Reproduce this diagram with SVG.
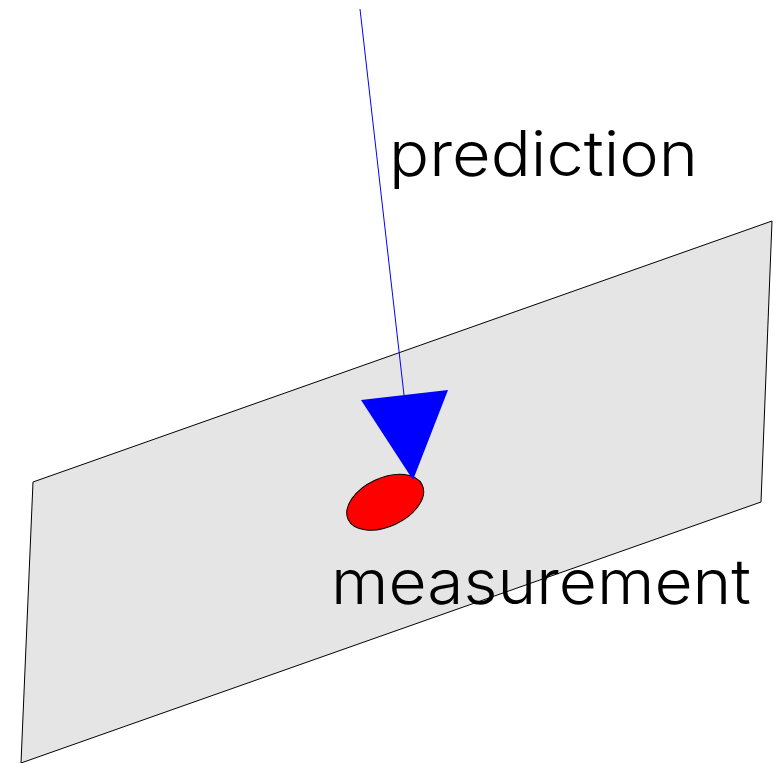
<svg xmlns="http://www.w3.org/2000/svg" width="779" height="763" viewBox="0 0 779 763">
<style>
.l{font-family:"Inter","Liberation Sans",sans-serif;font-size:63px;font-weight:300;fill:#000;font-variant-ligatures:none}
</style>
<rect width="779" height="763" fill="#fff"/>
<g id="plane"><polygon points="33,482 772,221 761,502 21,763" fill="#e5e5e5" stroke="#000" stroke-width="1"/></g>
<g id="measurement-ellipse"><ellipse cx="385.200" cy="502.200" rx="40.900" ry="24.300" transform="rotate(-25 385.200 502.200)" fill="#f00" stroke="#000" stroke-width="1"/></g>
<g id="connectors">
<line x1="360" y1="9" x2="404" y2="395" stroke="#00f" stroke-width="1"/>
<polygon points="361,400 448,390 413,480" fill="#00f"/>
</g>
<g id="label-prediction"><text class="l" x="389" y="175.500" textLength="309" lengthAdjust="spacingAndGlyphs">prediction</text></g>
<g id="label-measurement"><text class="l" x="331" y="603.500" textLength="420" lengthAdjust="spacingAndGlyphs">measurement</text></g>
</svg>
